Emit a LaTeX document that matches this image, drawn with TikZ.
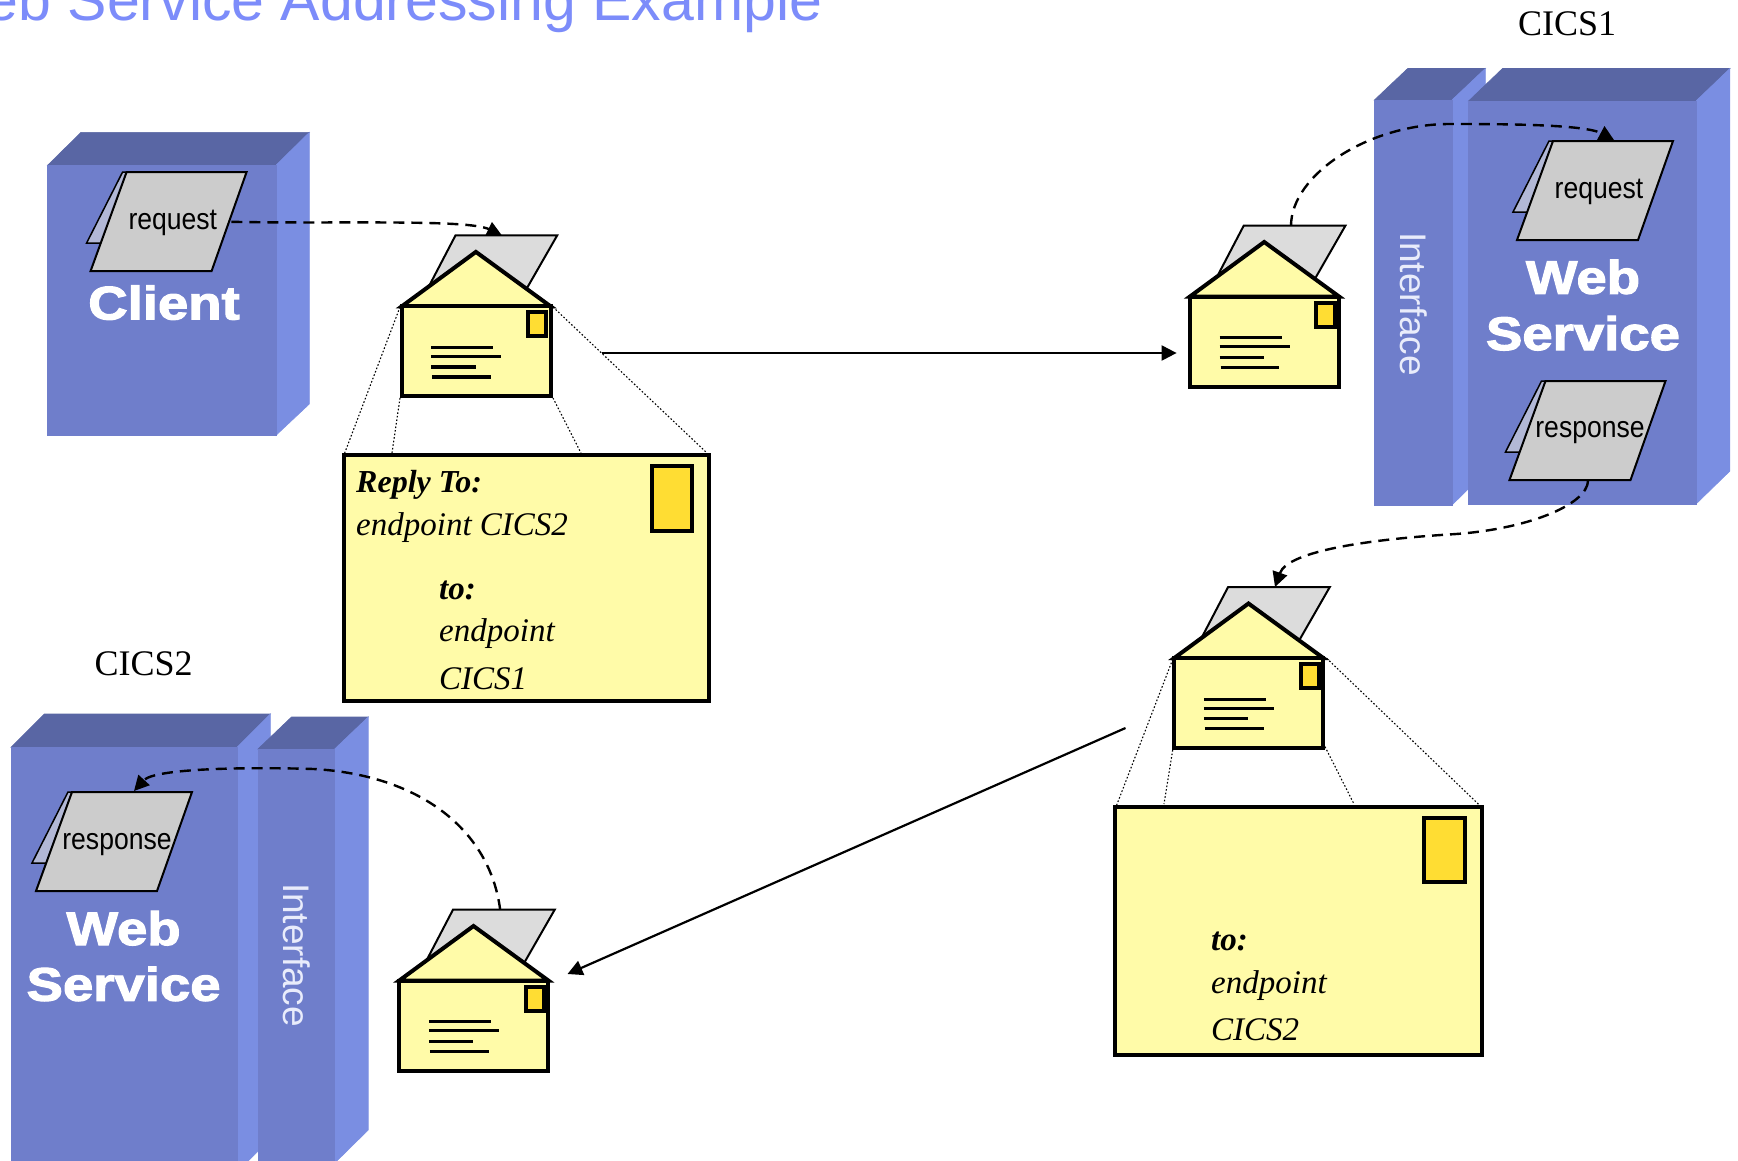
\documentclass[tikz,border=0pt]{standalone}
\usepackage{fontspec}
\usepackage{graphicx}
\usetikzlibrary{arrows.meta}
\setmainfont{Liberation Serif}
\newfontfamily\arialf{Liberation Sans}
\newfontfamily\heavyf[BoldFeatures={FakeBold=2.5,FakeStretch=1.16}]{Liberation Sans}
\definecolor{topc}{HTML}{5966A4}
\definecolor{frontc}{HTML}{6F7ECB}
\definecolor{sidec}{HTML}{7A8EE2}
\definecolor{docc}{HTML}{CCCCCC}
\definecolor{backc}{HTML}{B2B8D6}
\definecolor{envsheet}{HTML}{DCDCDC}
\definecolor{envc}{HTML}{FFFBA8}
\definecolor{stampc}{HTML}{FFDD33}
\definecolor{titlec}{HTML}{7C8CFA}
\definecolor{ifacec}{HTML}{E9ECFB}
\tikzset{
  frontface/.style={fill=frontc,draw=frontc,line width=.6pt},
  sideface/.style={fill=sidec,draw=sidec,line width=.6pt},
  topface/.style={fill=topc,draw=topc,line width=.6pt},
  flowdash/.style={line width=2.4pt,dash pattern=on 11pt off 7pt,-{Triangle[length=15pt,width=15pt]}},
  flowsolid/.style={line width=2.2pt,-{Triangle[length=15pt,width=15pt]}},
  envline/.style={line width=4pt,draw=black},
  zoomline/.style={line width=1.1pt,dash pattern=on 1.6pt off 2pt},
  sheetline/.style={line width=2pt,draw=black,line join=miter},
  sheettext/.style={font=\arialf\fontsize{30}{30}\selectfont,inner sep=0pt},
  heavytext/.style={font=\heavyf\bfseries\fontsize{47}{47}\selectfont,text=white,inner sep=0pt,anchor=base},
  ifacetext/.style={font=\arialf\fontsize{37}{37}\selectfont,text=ifacec,inner sep=0pt,rotate=-90},
  cicstext/.style={font=\fontsize{36}{36}\selectfont,inner sep=0pt,anchor=base},
  addr/.style={font=\itshape\fontsize{33}{33}\selectfont,inner sep=0pt,anchor=base west},
  addrb/.style={font=\itshape\bfseries\fontsize{33}{33}\selectfont,inner sep=0pt,anchor=base west},
}
\newcommand{\blockbox}[7]{%
  \fill[topface] (#1,#3) -- (#5,#6) -- ++(#2-#1,0) -- (#2,#3) -- cycle;
  \fill[sideface] (#2,#3) -- (#5+#2-#1,#6) -- (#5+#2-#1,#7-33) -- (#2,#4) -- (#2,#3);
  \fill[frontface] (#1,#3) rectangle (#2,#4);
}
\newcommand{\docsheet}[2]{%
  \begin{scope}[shift={(#1,#2)}]
    \path[sheetline,fill=backc,line width=1.5pt] (-4,0) -- (-40,71) -- (-22,71) -- (0,0) -- cycle;
    \path[sheetline,fill=docc] (0,0) -- (120,0) -- (85,99) -- (-36,99) -- cycle;
  \end{scope}
}
\newcommand{\envsheet}[2]{%
  \begin{scope}[shift={(#1,#2)}]
    \path[sheetline,fill=envsheet] (53.8,-71) -- (155.5,-71) -- (125.5,-18.7) -- (26.5,-18.7) -- cycle;
  \end{scope}
}
\newcommand{\envbody}[2]{%
  \begin{scope}[shift={(#1,#2)}]
    \path[envline,fill=envc,line join=miter] (0,0) -- (74.2,-54.5) -- (149,0) -- cycle;
    \path[envline,fill=envc] (0,0) rectangle (149,90);
    \path[envline,fill=stampc] (126.3,6) rectangle (144.5,30);
    \draw[line width=3.3pt] (29.5,41.3) -- (91.5,41.3) (29.5,50.3) -- (99.5,50.3) (29.5,60.7) -- (73.8,60.7) (30.5,70.7) -- (89.2,70.7);
  \end{scope}
}
\begin{document}
\begin{tikzpicture}[x=1pt,y=-1pt]
\clip (0,0) rectangle (1738,1160);
\fill[white] (0,0) rectangle (1738,1160);
% title
\node[font=\arialf\fontsize{59}{59}\selectfont,text=titlec,anchor=base west,inner sep=0pt] (title) at (-69,20) {Web Service Addressing Example};
% blocks
\blockbox{47.7}{276}{165.2}{435.3}{81}{132.4}{437}
\blockbox{1374.4}{1452}{100}{505}{1407.7}{68.5}{505}
\blockbox{1468.6}{1696}{101}{504}{1502.5}{68.5}{504}
\blockbox{11}{237}{747.3}{1172}{44.3}{714}{1172}
\blockbox{258}{334.7}{749}{1163}{291.5}{717}{1163}
% anchors of connectors
\coordinate (reqClientOut) at (231.4,221.8);
\coordinate (env1In) at (502,235.5);
\coordinate (env1Out) at (601.6,353);
\coordinate (env2In) at (1176.6,353);
\coordinate (env2Out) at (1291,226);
\coordinate (reqWSIn) at (1614,140);
\coordinate (respWSOut) at (1588,481);
\coordinate (env3In) at (1275,587);
\coordinate (env3Out) at (1125.5,728);
\coordinate (env4In) at (567.5,974);
\coordinate (env4Out) at (500.2,910);
\coordinate (respIn) at (134,791);
% dashed flows
\draw[flowdash] (reqClientOut) .. controls (340,224) and (468,219) .. (env1In);
\draw[flowdash] (env2Out) .. controls (1291,175) and (1368,124) .. (1450,124) .. controls (1496,124) and (1584,124) .. (reqWSIn);
\draw[flowdash] (respWSOut) .. controls (1587,505) and (1526,530) .. (1450,534.4) .. controls (1376,539) and (1288,550) .. (env3In);
\draw[flowdash] (env4Out) .. controls (490,830) and (420,775) .. (313.8,769) .. controls (250,767) and (155,768) .. (respIn);
% documents in blocks
\docsheet{126.6}{172}
\docsheet{1553}{141}
\docsheet{1545.5}{381}
\docsheet{72}{792}
\node[sheettext] (reqC) at (172.8,223.3) {\scalebox{.885}[1]{request}};
\node[sheettext] (reqW) at (1599,191.5) {\scalebox{.885}[1]{request}};
\node[sheettext] (respW) at (1590,433) {\scalebox{.885}[1]{response}};
\node[sheettext] (respS) at (117,844.5) {\scalebox{.885}[1]{response}};
\node[heavytext] (client) at (164,319.4) {Client};
\node[heavytext] (web1) at (1583,293.7) {Web};
\node[heavytext] (svc1) at (1583,350) {Service};
\node[heavytext] (web2) at (123.6,945) {Web};
\node[heavytext] (svc2) at (123.6,1000.7) {Service};
\node[ifacetext] (if1) at (1414,304) {Interface};
\node[ifacetext] (if2) at (296.5,955) {Interface};
\node[cicstext] (cics1) at (1567,35.7) {CICS1};
\node[cicstext] (cics2) at (143.6,675.5) {CICS2};
% small envelopes
\envsheet{401.7}{306.4}\envsheet{1190}{296.5}\envsheet{1174.3}{658}\envsheet{399.3}{980.5}
\envbody{401.7}{306.4}\envbody{1190}{296.5}\envbody{1174.3}{658}\envbody{399.3}{980.5}
% zoom dotted lines
\draw[zoomline] (400,307) -- (344.7,453);
\draw[zoomline] (400,398) -- (392,453);
\draw[zoomline] (553,307) -- (707,453);
\draw[zoomline] (553,398) -- (581,453);
\draw[zoomline] (1172.7,659.3) -- (1116.7,805);
\draw[zoomline] (1172.7,750) -- (1164,804);
\draw[zoomline] (1326.7,658.3) -- (1479.3,805);
\draw[zoomline] (1325,746.7) -- (1354,804);
% big envelopes
\path[envline,fill=envc] (344,455) rectangle (709.3,701.3);
\path[envline,fill=stampc] (651.5,466) rectangle (692,530.5);
\node[addrb,font=\itshape\bfseries\fontsize{32}{32}\selectfont] (rt) at (356,492.6) {Reply To:};
\node[addr] (rt1) at (356,535) {endpoint CICS2};
\node[addrb] (to1) at (439,599.4) {to:};
\node[addr] (to1a) at (439,641.7) {endpoint};
\node[addr] (to1b) at (439,689) {CICS1};
\path[envline,fill=envc] (1115.3,807) rectangle (1481.7,1054.7);
\path[envline,fill=stampc] (1424,817.5) rectangle (1465,882);
\node[addrb] (to2) at (1211,950.7) {to:};
\node[addr] (to2a) at (1211,993.3) {endpoint};
\node[addr] (to2b) at (1211,1040) {CICS2};
% solid flows
\draw[flowsolid] (env1Out) -- (env2In);
\draw[flowsolid] (env3Out) -- (env4In);
\end{tikzpicture}
\end{document}
